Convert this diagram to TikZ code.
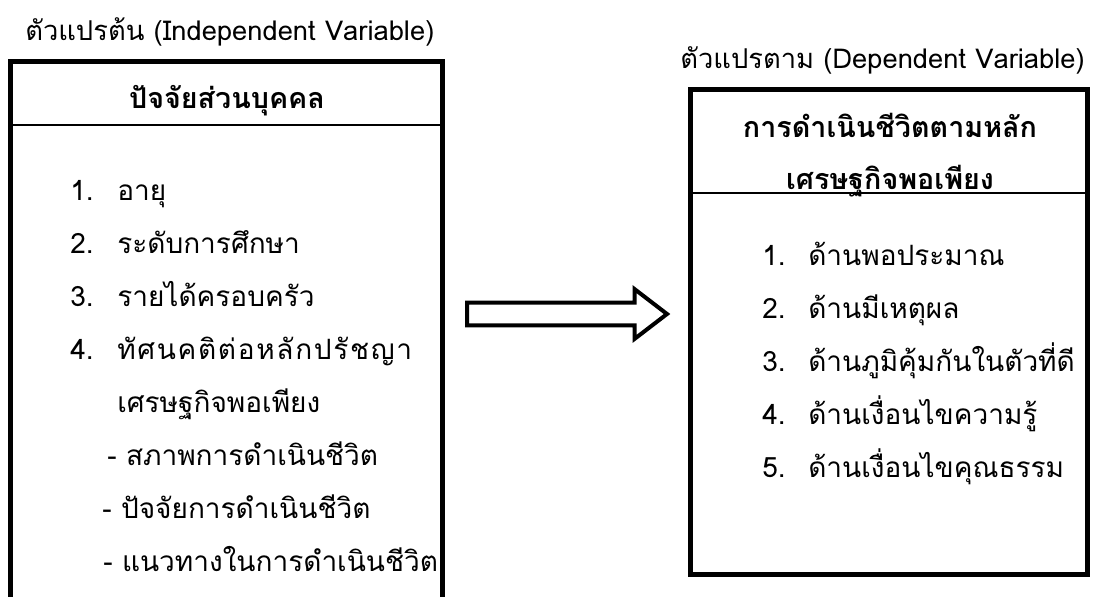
\documentclass[tikz,border=0pt]{standalone}
\usepackage{fontspec}
\setmainfont[Script=Thai]{Loma}
\usetikzlibrary{shapes.arrows}

\begin{document}
\begin{tikzpicture}[x=0.75pt, y=-0.75pt]
\def\framewidth{3.75pt}
\def\rulewidth{1.5pt}
\def\itemfontsize{\fontsize{21}{25}}
\def\headfontsize{\fontsize{21.5}{26}}
\def\titlefontsize{\fontsize{20.5}{25}}
\tikzset{itemlabel/.style={anchor=base west, inner sep=0pt, font=\itemfontsize\selectfont},
         titlelabel/.style={anchor=base west, inner sep=0pt, font=\titlefontsize\selectfont},
         headlabel/.style={anchor=base, inner sep=0pt, font=\headfontsize\bfseries\selectfont}}
\useasboundingbox (0,0) rectangle (1094,596);

\begin{scope}[shift={(0, 0)}] % LEFT BOX (open at the bottom)

\draw[line width=\framewidth] (10, 600) -- (10, 61) -- (442, 61) -- (442, 600);
\draw[line width=\rulewidth] (10, 125) -- (442, 125);

\node [titlelabel] (lefttitle) at (25, 40) {ตัวแปรต้น (Independent Variable)};
\node [headlabel] (lefthead) at (227, 108) {ปัจจัยส่วนบุคคล};

\node [itemlabel] (lno1) at (70, 200) {1.};
\node [itemlabel] (lit1) at (117, 200) {อายุ};
\node [itemlabel] (lno2) at (70, 253) {2.};
\node [itemlabel] (lit2) at (117, 253) {ระดับการศึกษา};
\node [itemlabel] (lno3) at (70, 306) {3.};
\node [itemlabel] (lit3) at (117, 306) {รายได้ครอบครัว};
\node [itemlabel] (lno4) at (70, 359) {4.};
\node [itemlabel] (lit4) at (117, 359) {\addfontfeature{LetterSpace=6}ทัศนคติต่อหลักปรัชญา};
\node [itemlabel] (lit4b) at (117, 412) {เศรษฐกิจพอเพียง};

\node [itemlabel] (lsub1) at (107, 465) {- สภาพการดำเนินชีวิต};
\node [itemlabel] (lsub2) at (102, 518) {- ปัจจัยการดำเนินชีวิต};
\node [itemlabel] (lsub3) at (103, 571) {- แนวทางในการดำเนินชีวิต};
\end{scope}

\begin{scope}[shift={(0, 0)}] % RIGHT BOX

\draw[line width=\framewidth] (690, 89) rectangle (1087, 574);
\draw[line width=\rulewidth] (690, 193) -- (1087, 193);

\node [titlelabel] (righttitle) at (680, 68) {ตัวแปรตาม (Dependent Variable)};
\node [headlabel] (righthead) at (890, 137) {การดำเนินชีวิตตามหลัก};
\node [headlabel] (rightheadb) at (890, 189) {เศรษฐกิจพอเพียง};

\node [itemlabel] (rno1) at (762, 265) {1.};
\node [itemlabel] (rit1) at (808, 265) {ด้านพอประมาณ};
\node [itemlabel] (rno2) at (762, 318) {2.};
\node [itemlabel] (rit2) at (808, 318) {ด้านมีเหตุผล};
\node [itemlabel] (rno3) at (762, 371) {3.};
\node [itemlabel] (rit3) at (808, 371) {ด้านภูมิคุ้มกันในตัวที่ดี};
\node [itemlabel] (rno4) at (762, 424) {4.};
\node [itemlabel] (rit4) at (808, 424) {ด้านเงื่อนไขความรู้};
\node [itemlabel] (rno5) at (762, 477) {5.};
\node [itemlabel] (rit5) at (808, 477) {ด้านเงื่อนไขคุณธรรม};
\end{scope}

% block arrow between the boxes
\node [single arrow, draw, fill=white, line width=3pt, inner sep=0pt, inner ysep=7.1pt,
       minimum height=150pt, single arrow head extend=10pt, single arrow tip angle=75,
       anchor=tail] (flow) at (465, 314) {};

\end{tikzpicture}
\end{document}
